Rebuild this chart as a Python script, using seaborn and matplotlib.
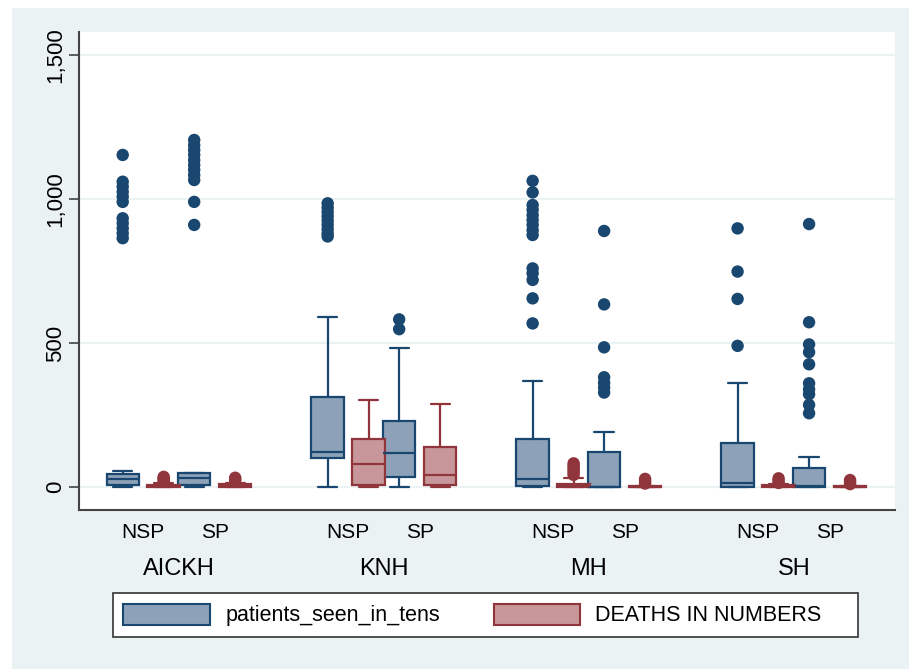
import matplotlib
matplotlib.use('Agg')
import matplotlib.pyplot as plt
from matplotlib.patches import Patch, Rectangle
from matplotlib.transforms import blended_transform_factory
import seaborn as sns

# Categories
hospitals = ['AICKH', 'KNH', 'MH', 'SH']
status = ['NSP', 'SP']
series_names = ['patients_seen_in_tens', 'DEATHS IN NUMBERS']

# Box summaries, order:
# AICKH-NSP, AICKH-SP, KNH-NSP, KNH-SP, MH-NSP, MH-SP, SH-NSP, SH-SP
patients_lo = [0, 0, 0, 0, 0, 0, 0, 0]
patients_q1 = [7, 7, 100, 36, 5, 0, 0, 0]
patients_med = [27, 30, 123, 118, 28, 0, 15, 2]
patients_q3 = [45, 47, 311, 228, 168, 122, 152, 67]
patients_hi = [55, 50, 590, 481, 369, 191, 360, 105]
patients_out = [
    [1153, 1060, 1043, 1025, 1008, 990, 933, 916, 898, 881, 864],
    [1205, 1187, 1170, 1153, 1135, 1118, 1101, 1083, 1066, 990, 910],
    [985, 970, 955, 940, 925, 910, 895, 880, 870],
    [582, 548],
    [1063, 1023, 979, 962, 944, 927, 910, 892, 875, 759, 742, 719, 655, 568],
    [889, 634, 485, 381, 362, 345, 328],
    [898, 748, 653, 490],
    [913, 572, 495, 468, 426, 360, 339, 322, 285, 256],
]

deaths_lo = [0, 0, 0, 0, 0, 0, 0, 0]
deaths_q1 = [0, 0, 6, 6, 0, 0, 0, 0]
deaths_med = [3, 3, 80, 43, 5, 0, 2, 0]
deaths_q3 = [8, 10, 168, 138, 12, 2, 6, 2]
deaths_hi = [15, 15, 302, 287, 30, 5, 12, 4]
deaths_out = [
    [20, 25, 30, 35],
    [20, 26, 32],
    [],
    [],
    [42, 50, 58, 66, 74, 82],
    [12, 20, 28],
    [14, 22, 30],
    [10, 17, 24],
]

yticks = [0, 500, 1000, 1500]

# Colours (Stata s2color look)
bg = '#EAF2F3'
blue_edge = '#1A476F'
blue_fill = '#8DA2B8'
red_edge = '#90353B'
red_fill = '#C8979B'

sns.set_style('white')
plt.rcParams['font.family'] = ['Liberation Sans', 'DejaVu Sans']
plt.rcParams['text.color'] = 'black'
plt.rcParams['ytick.color'] = 'black'

W, H = 909, 669
fig = plt.figure(figsize=(W / 100, H / 100), dpi=100, facecolor='white')
fig.patches.append(Rectangle((12 / W, 0), 1, 1 - 8 / H, transform=fig.transFigure,
                             facecolor=bg, edgecolor='none', zorder=-5))
ax = fig.add_axes([79 / W, 1 - 510 / H, (895 - 79) / W, (510 - 31.7) / H])
ax.set_facecolor('white')

group_step, sub_step = 5.0, 1.744


def xpos(i, k):
    g, s = divmod(i, 2)
    return group_step * g + sub_step * s + k


series = [
    (patients_lo, patients_q1, patients_med, patients_q3, patients_hi, patients_out, blue_edge, blue_fill),
    (deaths_lo, deaths_q1, deaths_med, deaths_q3, deaths_hi, deaths_out, red_edge, red_fill),
]

for k, (lo, q1, med, q3, hi, out, edge, fill) in enumerate(series):
    stats = [dict(whislo=lo[i], q1=q1[i], med=med[i], q3=q3[i], whishi=hi[i], fliers=[])
             for i in range(len(lo))]
    pos = [xpos(i, k) for i in range(len(lo))]
    ax.bxp(stats, positions=pos, widths=0.79, capwidths=0.47, patch_artist=True,
           showfliers=False,
           boxprops=dict(facecolor=fill, edgecolor=edge, linewidth=1.6),
           medianprops=dict(color=edge, linewidth=1.6),
           whiskerprops=dict(color=edge, linewidth=1.6),
           capprops=dict(color=edge, linewidth=1.6))
    fx = [xpos(i, k) for i in range(len(out)) for _ in out[i]]
    fy = [v for vals in out for v in vals]
    sns.scatterplot(x=fx, y=fy, color=edge, s=80, edgecolor='none', ax=ax, zorder=3)

ax.set_xlim(-1.066, 18.84)
ax.set_ylim(-80, 1581)
ax.set_xticks([])
ax.set_yticks(yticks)
ax.set_yticklabels([f'{v:,}' for v in yticks], rotation=90, va='center', fontsize=16)
ax.tick_params(axis='y', length=7.2, width=1.2, color='#444444', labelcolor='black',
               pad=2, left=True)
ax.yaxis.grid(True, color=bg, linewidth=1.5)
ax.set_axisbelow(True)
ax.set_xlabel('')
ax.set_ylabel('')
sns.despine(ax=ax)
for side in ['left', 'bottom']:
    ax.spines[side].set_color('#444444')
    ax.spines[side].set_linewidth(1.5)

trans = blended_transform_factory(ax.transData, fig.transFigure)
for g, name in enumerate(hospitals):
    for s, st in enumerate(status):
        ax.text(group_step * g + sub_step * s + 0.5, 1 - 538.3 / H, st, transform=trans,
                ha='center', va='baseline', fontsize=15)
    ax.text(group_step * g + (sub_step + 1) / 2, 1 - 575 / H, name, transform=trans,
            ha='center', va='baseline', fontsize=17)

# Legend with Stata-like frame
fig.patches.append(Rectangle((113.3 / W, 1 - 636.7 / H), (858.3 - 113.3) / W, 43.4 / H,
                             transform=fig.transFigure, facecolor='white',
                             edgecolor='#333333', linewidth=1.2, zorder=1))
handles = [Patch(facecolor=blue_fill, edgecolor=blue_edge, linewidth=1.5),
           Patch(facecolor=red_fill, edgecolor=red_edge, linewidth=1.5)]
fig.legend(handles, series_names, ncol=2, frameon=False, loc='center left',
           bbox_to_anchor=(123.3 / W, 1 - 615 / H), fontsize=15.5,
           handlelength=4.03, handleheight=1.14, handletextpad=0.7,
           columnspacing=2.5, borderpad=0, borderaxespad=0)

fig.savefig('out.png', dpi=100, facecolor=fig.get_facecolor())
